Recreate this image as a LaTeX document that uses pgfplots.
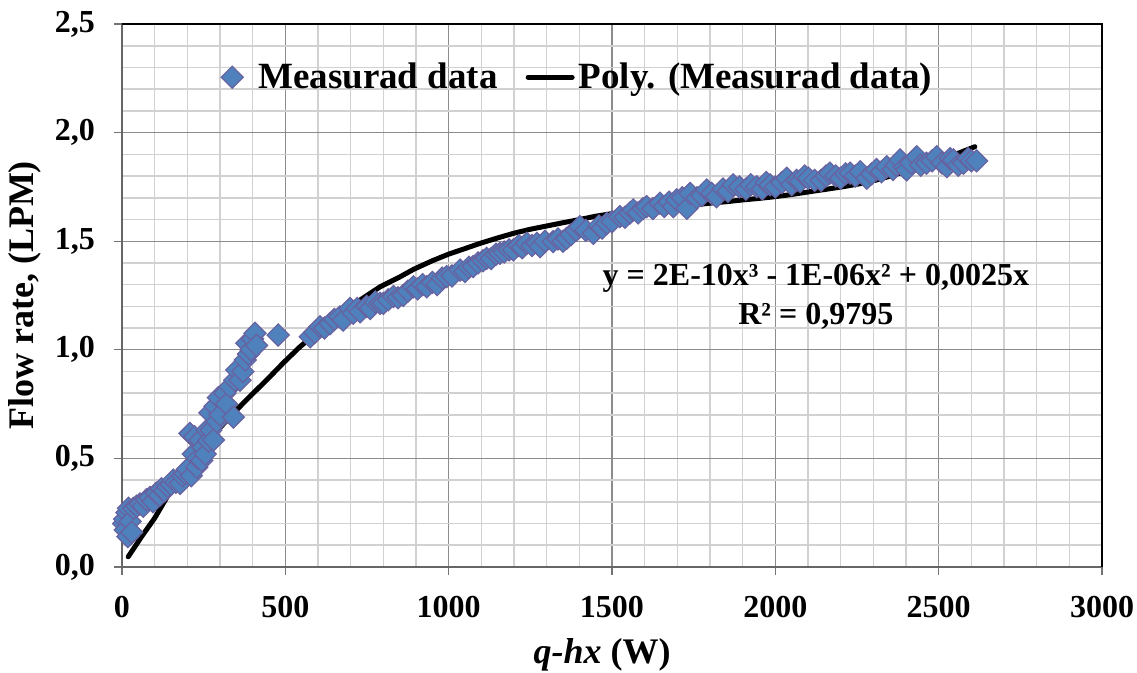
\documentclass[border=0pt]{standalone}
\usepackage{fontspec}
\setmainfont{Liberation Serif}
\usepackage{pgfplots}
\pgfplotsset{compat=1.18}
\definecolor{mfill}{RGB}{79,129,189}
\definecolor{mdraw}{RGB}{104,98,160}
\begin{document}
\begin{tikzpicture}
\useasboundingbox (-61pt,-53pt) rectangle (507.5pt,283.5pt);
\begin{axis}[
 at={(0,0)}, anchor=south west,
 scale only axis, width=490pt, height=271.5pt,
 xmin=0, xmax=3000, ymin=0, ymax=2.5,
 xtick={0,500,1000,1500,2000,2500,3000},
 ytick={0,0.5,1,1.5,2,2.5},
 minor x tick num=4, minor y tick num=4,
 grid=both,
 major grid style={line width=0.6pt, color=black!45},
 minor grid style={line width=0.8pt, color=black!18},
 tick align=outside, tick pos=left,
 major tick length=4pt, minor tick length=0pt,
 tick style={color=black!55, line width=0.6pt},
 axis line style={draw=black!60, line width=1pt},
 /pgf/number format/assume math mode=true,
 tick label style={font=\bfseries\fontsize{16}{19}\selectfont},
 xticklabel style={yshift=-7pt, /pgf/number format/.cd, fixed, set thousands separator={}},
 yticklabel style={xshift=-6pt, /pgf/number format/.cd, fixed, fixed zerofill, precision=1, use comma},
 xlabel={\textit{q-hx} (W)},
 xlabel style={font=\bfseries\fontsize{18}{21}\selectfont, at={(axis description cs:0.49,0)}, anchor=center, yshift=-44pt},
 ylabel={Flow rate, (LPM)},
 ylabel style={font=\bfseries\fontsize{18}{21}\selectfont, at={(axis description cs:-0.099,0.5)}, anchor=center},
 clip=false,
 legend columns=2,
 legend style={draw=none, fill=none, font=\bfseries\fontsize{18.5}{22}\selectfont,
   at={(axis description cs:0.466,0.902)}, anchor=center,
   /tikz/every even column/.append style={column sep=12pt}},
]
\addplot[only marks, mark=square*, mark size=3.9pt,
  mark options={rotate=45, fill=mfill, draw=mdraw, line width=0.6pt},
  legend image code/.code={\draw[##1, only marks] plot coordinates {(0pt,0pt)}; \node[inner sep=0pt, minimum size=0pt] at (11pt,0pt) {};}]
coordinates {
(5,0.20)(8,0.22)(10,0.17)(15,0.25)(18,0.14)(20,0.27)(25,0.21)(30,0.16)(35,0.27)
(45,0.28)(55,0.29)(65,0.28)(75,0.31)(86,0.32)(95,0.30)(105,0.34)(115,0.33)
(121,0.36)(130,0.35)(140,0.37)(150,0.38)(157,0.40)(165,0.39)(178,0.385)(185,0.42)
(193,0.43)(200,0.45)(208,0.615)(212,0.42)(218,0.52)(222,0.60)(229,0.46)(232,0.50)
(239,0.585)(244,0.49)(248,0.55)(255,0.52)(260,0.63)(265,0.58)(269,0.71)(272,0.63)
(280,0.585)(285,0.74)(290,0.67)(295,0.78)(300,0.70)(315,0.80)(320,0.75)(331,0.83)
(341,0.69)(345,0.86)(351,0.907)(361,0.86)(370,0.90)(377,0.953)(382,1.03)(387,0.98)
(395,1.00)(400,1.05)(407,1.076)(412,1.02)(478,1.068)
(576,1.06)(590,1.08)(606,1.106)(620,1.10)(637,1.12)(650,1.14)(667,1.152)(677,1.137)
(698,1.19)(708,1.168)(720,1.19)(729,1.175)(749,1.20)(760,1.19)(775,1.22)(790,1.214)
(800,1.214)(815,1.23)(831,1.245)(845,1.24)(861,1.25)(875,1.27)(892,1.29)(905,1.28)
(920,1.30)(933,1.29)(950,1.31)(965,1.30)(980,1.33)(994,1.337)(1010,1.34)(1035,1.367)
(1050,1.36)(1062,1.38)(1075,1.383)(1090,1.40)(1105,1.41)(1116,1.421)(1130,1.42)
(1145,1.44)(1157,1.444)(1170,1.45)(1185,1.46)(1198,1.46)(1215,1.48)(1225,1.47)
(1239,1.49)(1255,1.48)(1270,1.49)(1280,1.475)(1295,1.50)(1320,1.498)(1335,1.51)
(1350,1.50)(1361,1.513)(1375,1.53)(1390,1.55)(1402,1.567)(1420,1.55)(1443,1.536)
(1460,1.57)(1470,1.56)(1484,1.582)(1500,1.59)(1524,1.613)(1540,1.61)(1555,1.63)
(1565,1.644)(1580,1.63)(1595,1.65)(1606,1.659)(1625,1.65)(1647,1.675)(1660,1.66)
(1675,1.68)(1688,1.659)(1698,1.69)(1715,1.70)(1729,1.651)(1739,1.72)(1760,1.70)
(1775,1.71)(1790,1.736)(1805,1.72)(1820,1.705)(1840,1.74)(1855,1.73)(1871,1.759)
(1890,1.75)(1910,1.74)(1925,1.76)(1943,1.751)(1960,1.74)(1972,1.77)(1984,1.759)
(2000,1.75)(2020,1.77)(2035,1.79)(2050,1.76)(2065,1.78)(2076,1.774)(2090,1.80)
(2101,1.79)(2120,1.78)(2140,1.78)(2155,1.80)(2167,1.813)(2185,1.80)(2200,1.79)
(2215,1.81)(2229,1.813)(2245,1.80)(2260,1.82)(2280,1.79)(2295,1.81)(2310,1.83)
(2325,1.82)(2341,1.843)(2360,1.83)(2370,1.85)(2382,1.874)(2395,1.84)(2402,1.828)
(2415,1.86)(2433,1.889)(2445,1.85)(2463,1.859)(2480,1.87)(2494,1.889)(2510,1.86)
(2525,1.843)(2535,1.88)(2545,1.874)(2560,1.85)(2576,1.859)(2590,1.88)(2600,1.87)
(2616,1.87)
};
\addlegendentry{Measurad data}
\addplot[black, line width=2.5pt, line join=round, line cap=round,
  legend image code/.code={\draw[black, line width=2.5pt] (0pt,0pt) -- (22pt,0pt);}]
coordinates {
(19,0.047)(60,0.14)(100,0.225)(137,0.32)(180,0.42)(239,0.539)(290,0.625)(341,0.708)
(392,0.786)(443,0.861)(494,0.94)(545,1.014)(596,1.078)(647,1.137)(688,1.18)(729,1.229)
(790,1.29)(850,1.335)(892,1.37)(950,1.41)(1001,1.441)(1050,1.466)(1096,1.49)(1150,1.515)
(1198,1.536)(1250,1.555)(1300,1.57)(1350,1.585)(1402,1.60)(1450,1.615)(1504,1.628)
(1550,1.64)(1606,1.65)(1647,1.656)(1700,1.662)(1749,1.667)(1800,1.675)(1851,1.682)
(1900,1.69)(1950,1.697)(1999,1.705)(2050,1.715)(2106,1.728)(2160,1.74)(2208,1.751)
(2260,1.765)(2310,1.782)(2360,1.803)(2412,1.828)(2460,1.852)(2514,1.88)(2560,1.905)
(2611,1.935)
};
\addlegendentry{Poly. (Measurad data)}
\draw[black, line width=1.4pt] (rel axis cs:0,1) -- (rel axis cs:1,1) -- (rel axis cs:1,0);
\node[font=\bfseries\fontsize{16}{19}\selectfont, anchor=center] at (axis cs:2124,1.33) {y = 2E-10x³ - 1E-06x² + 0,0025x};
\node[font=\bfseries\fontsize{16}{19}\selectfont, anchor=center] at (axis cs:2124,1.156) {R² = 0,9795};
\end{axis}
\end{tikzpicture}
\end{document}
